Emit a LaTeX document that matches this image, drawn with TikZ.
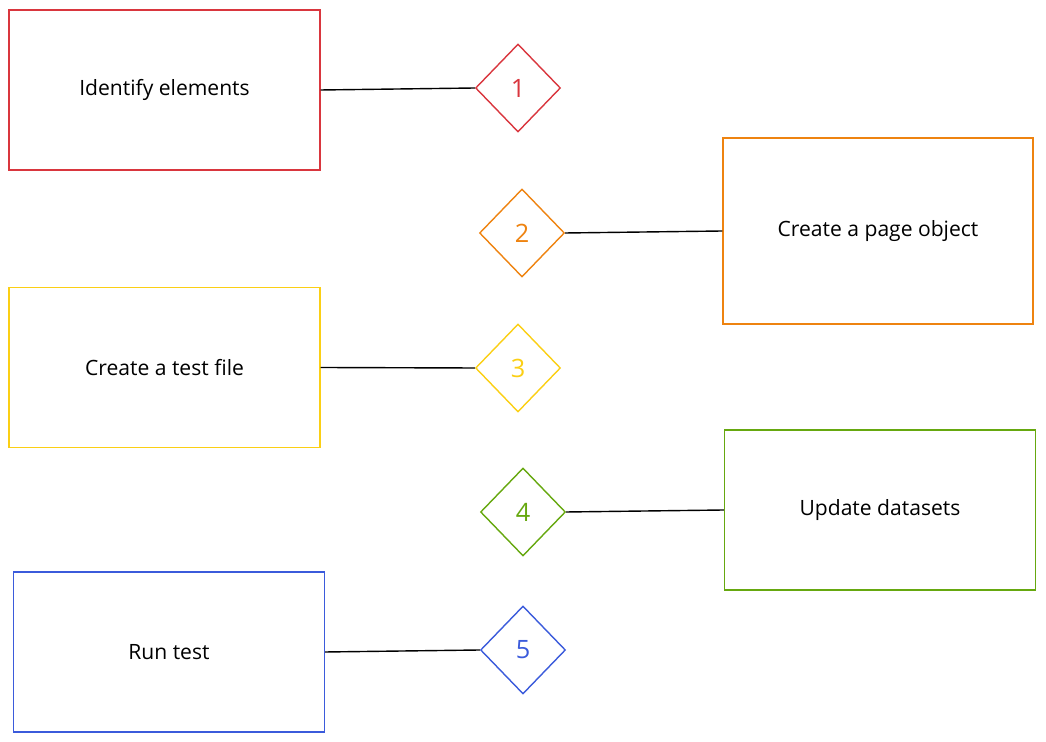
\documentclass[tikz,border=0pt]{standalone}
\usepackage{fontspec}
\setmainfont{Open Sans}
\usepackage{tikz}
\usetikzlibrary{calc, shapes.geometric}

\definecolor{stepred}{HTML}{D9363E}
\definecolor{steporange}{HTML}{EE8310}
\definecolor{stepyellow}{HTML}{FBCF14}
\definecolor{stepgreen}{HTML}{66A80F}
\definecolor{stepblue}{HTML}{3B5BDB}

\tikzset{
	stepbox/.style={draw=#1, line width=0.8pt, rectangle, minimum width=6.22cm, minimum height=3.2cm, font=\large, text=black},
	stepnum/.style={draw=#1, text=#1, line width=0.8pt, diamond, minimum width=1.7cm, minimum height=1.76cm, inner sep=0pt, font=\Large},
	link/.style={line width=0.8pt, black}
}

\begin{document}
\begin{tikzpicture}[x=0.02cm, y=-0.02cm]
						\useasboundingbox (0,0) rectangle (1046,742);
						
						\node (box1) at (164.5,90) [stepbox=stepred] {Identify elements};
						\node (num1) at (518,88) [stepnum=stepred] {1};
						\draw[link] (box1.east) -- (num1.west);
						
						\node (box2) at (878,231) [stepbox=steporange, minimum width=6.2cm, minimum height=3.72cm] {Create a page object};
						\node (num2) at (522,233) [stepnum=steporange] {2};
						\draw[link] (num2.east) -- (box2.west);
						
						\node (box3) at (164.5,367.5) [stepbox=stepyellow] {Create a test file};
						\node (num3) at (518,368) [stepnum=stepyellow] {3};
						\draw[link] (box3.east) -- (num3.west);
						
						\node (box4) at (880,510) [stepbox=stepgreen] {Update datasets};
						\node (num4) at (523,512) [stepnum=stepgreen] {4};
						\draw[link] (num4.east) -- (box4.west);
						
						\node (box5) at (169,652) [stepbox=stepblue] {Run test};
						\node (num5) at (523,650) [stepnum=stepblue] {5};
						\draw[link] (box5.east) -- (num5.west);
					\end{tikzpicture}
\end{document}
